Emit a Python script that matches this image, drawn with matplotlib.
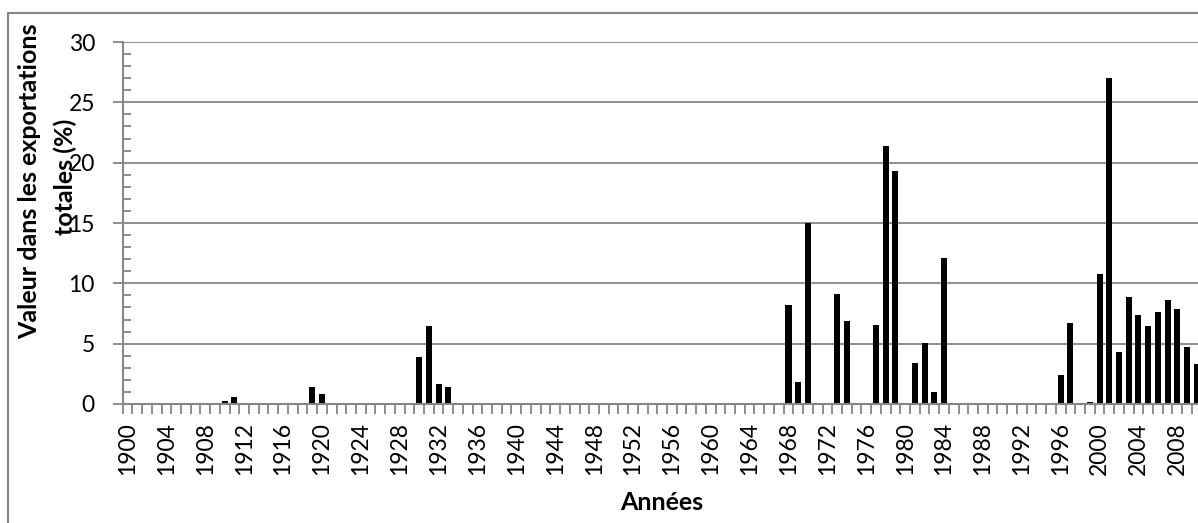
import matplotlib
matplotlib.use("Agg")
import matplotlib.pyplot as plt
from matplotlib.patches import Rectangle
from matplotlib.ticker import MultipleLocator, FixedLocator

plt.rcParams['font.family'] = ['Lato', 'DejaVu Sans']

years = list(range(1900, 2011))
values = [
    0, 0, 0, 0, 0, 0, 0, 0, 0, 0,                 # 1900-1909
    0.25, 0.6, 0, 0, 0, 0, 0, 0, 0, 1.44,         # 1910-1919
    0.8, 0, 0, 0, 0, 0, 0, 0, 0, 0,               # 1920-1929
    3.86, 6.47, 1.64, 1.39, 0, 0, 0, 0, 0, 0,     # 1930-1939
    0, 0, 0, 0, 0, 0, 0, 0, 0, 0,                 # 1940-1949
    0, 0, 0, 0, 0, 0, 0, 0, 0, 0,                 # 1950-1959
    0, 0, 0, 0, 0, 0, 0, 0, 8.2, 1.82,            # 1960-1969
    15.03, 0, 0, 9.12, 6.88, 0, 0, 6.52, 21.4, 19.28,   # 1970-1979
    0, 3.37, 5.06, 1.02, 12.13, 0, 0, 0, 0, 0,    # 1980-1989
    0, 0.05, 0, 0, 0, 0, 2.43, 6.74, 0, 0.2,      # 1990-1999
    10.77, 26.99, 4.28, 8.84, 7.38, 6.46, 7.62, 8.65, 7.85, 4.75,  # 2000-2009
    3.31,                                         # 2010
]
label_years = list(range(1900, 2011, 4))
y_ticks = [0, 5, 10, 15, 20, 25, 30]
y_label_1 = "Valeur dans les exportations"
y_label_2 = "totales (%)"
x_label = "Années"

W, H = 1198, 523
fig = plt.figure(figsize=(W / 100, H / 100), dpi=100)
ax = fig.add_axes([122.7 / W, (H - 404) / H, 1078.9 / W, (404 - 42) / H])

pos = list(range(len(years)))
ax.bar(pos, values, width=0.62, color='black', zorder=3)

gray = '#868686'
fs_tick = 16.5
fs_lab = 18
ax.set_xlim(-0.5, len(years) - 0.5)
ax.set_ylim(0, 30)
ax.set_yticks(y_ticks)
ax.yaxis.set_minor_locator(MultipleLocator(1))
ax.grid(axis='y', which='major', color=gray, lw=1.3, zorder=1)
ax.tick_params(axis='y', which='major', direction='out', length=7, width=1.3,
               color=gray, labelsize=fs_tick, pad=13, labelcolor='black')
ax.tick_params(axis='y', which='minor', direction='in', length=6, width=1.3,
               color=gray)

# category boundaries as tick marks, labels at category centres
ax.xaxis.set_major_locator(FixedLocator([p - 0.5 for p in range(len(years) + 1)]))
ax.set_xticklabels([])
label_pos = [years.index(y) for y in label_years]
ax.xaxis.set_minor_locator(FixedLocator(label_pos))
ax.set_xticklabels([str(y) for y in label_years], minor=True, rotation=90)
ax.tick_params(axis='x', which='major', direction='out', length=7, width=1.3,
               color=gray)
ax.tick_params(axis='x', which='minor', length=0, labelsize=fs_tick, pad=13)

for s in ['top', 'right']:
    ax.spines[s].set_visible(False)
for s in ['left', 'bottom']:
    ax.spines[s].set_color(gray)
    ax.spines[s].set_linewidth(1.5)
ax.spines['bottom'].set_zorder(4)

fig.text(30 / W, 1 - 181 / H, y_label_1, rotation=90, ha='center', va='center',
         fontsize=fs_lab, fontweight='bold')
fig.text(65 / W, 1 - 177 / H, y_label_2, rotation=90, ha='center', va='center',
         fontsize=fs_lab, fontweight='bold')
fig.text(662 / W, 1 - 502 / H, x_label, ha='center', va='center',
         fontsize=fs_lab, fontweight='bold')

fig.patches.append(Rectangle((8 / W, -0.1), 2.0, (H - 13) / H + 0.1,
                             transform=fig.transFigure, fill=False,
                             edgecolor=gray, lw=1.5))

fig.savefig('out.png', dpi=100)
